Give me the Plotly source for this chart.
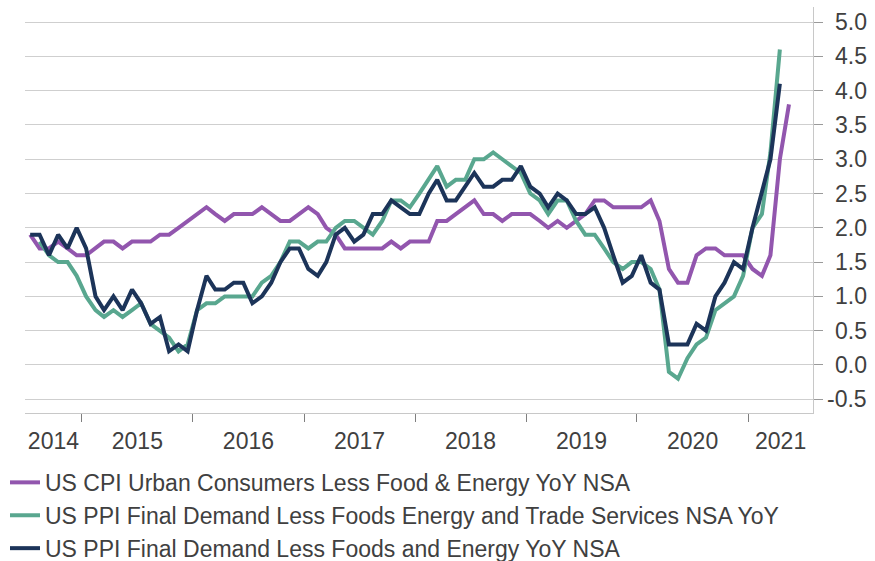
import pandas as pd
import plotly.graph_objects as go

# ---------------- data (monthly, YoY %) ----------------
cpi_start = "2014-07"
cpi_core = [
    1.9, 1.7, 1.7, 1.8, 1.7, 1.6,
    1.6, 1.7, 1.8, 1.8, 1.7, 1.8, 1.8, 1.8, 1.9, 1.9, 2.0, 2.1,
    2.2, 2.3, 2.2, 2.1, 2.2, 2.2, 2.2, 2.3, 2.2, 2.1, 2.1, 2.2,
    2.3, 2.2, 2.0, 1.9, 1.7, 1.7, 1.7, 1.7, 1.7, 1.8, 1.7, 1.8,
    1.8, 1.8, 2.1, 2.1, 2.2, 2.3, 2.4, 2.2, 2.2, 2.1, 2.2, 2.2,
    2.2, 2.1, 2.0, 2.1, 2.0, 2.1, 2.2, 2.4, 2.4, 2.3, 2.3, 2.3,
    2.3, 2.4, 2.1, 1.4, 1.2, 1.2, 1.6, 1.7, 1.7, 1.6, 1.6, 1.6,
    1.4, 1.3, 1.6, 3.0, 3.8,
]

ppi_trade_start = "2014-08"
ppi_ex_trade = [
    1.8, 1.6, 1.5, 1.5, 1.3,
    1.0, 0.8, 0.7, 0.8, 0.7, 0.8, 0.9, 0.6, 0.5, 0.4, 0.2, 0.3,
    0.8, 0.9, 0.9, 1.0, 1.0, 1.0, 1.0, 1.2, 1.3, 1.5, 1.8, 1.8,
    1.7, 1.8, 1.8, 2.0, 2.1, 2.1, 2.0, 1.9, 2.1, 2.4, 2.4, 2.3,
    2.5, 2.7, 2.9, 2.6, 2.7, 2.7, 3.0, 3.0, 3.1, 3.0, 2.9, 2.8,
    2.5, 2.4, 2.2, 2.4, 2.4, 2.1, 1.9, 1.9, 1.7, 1.5, 1.4, 1.5,
    1.5, 1.4, 1.1, -0.1, -0.2, 0.1, 0.3, 0.4, 0.8, 0.9, 1.0, 1.3,
    2.0, 2.2, 3.1, 4.6,
]

ppi_core_start = "2014-07"
ppi_core = [
    1.9, 1.9, 1.6, 1.9, 1.7, 2.0,
    1.7, 1.0, 0.8, 1.0, 0.8, 1.1, 0.9, 0.6, 0.7, 0.2, 0.3, 0.2,
    0.8, 1.3, 1.1, 1.1, 1.2, 1.2, 0.9, 1.0, 1.2, 1.5, 1.7, 1.7,
    1.4, 1.3, 1.5, 1.9, 2.0, 1.8, 1.9, 2.2, 2.2, 2.4, 2.3, 2.2,
    2.2, 2.5, 2.7, 2.4, 2.4, 2.6, 2.8, 2.6, 2.6, 2.7, 2.7, 2.9,
    2.6, 2.5, 2.3, 2.5, 2.4, 2.2, 2.2, 2.3, 2.0, 1.6, 1.2, 1.3,
    1.6, 1.2, 1.1, 0.3, 0.3, 0.3, 0.6, 0.5, 1.0, 1.2, 1.5, 1.4,
    2.0, 2.5, 3.0, 4.1,
]

series_names = [
    "US CPI Urban Consumers Less Food & Energy YoY NSA",
    "US PPI Final Demand Less Foods Energy and Trade Services NSA YoY",
    "US PPI Final Demand Less Foods and Energy YoY NSA",
]
series_colors = ["#9256ae", "#59a78f", "#1c3459"]

y_tick_vals = [-0.5, 0.0, 0.5, 1.0, 1.5, 2.0, 2.5, 3.0, 3.5, 4.0, 4.5, 5.0]
y_tick_text = ["-0.5", "0.0", "0.5", "1.0", "1.5", "2.0", "2.5", "3.0", "3.5", "4.0", "4.5", "5.0"]
year_labels = ["2014", "2015", "2016", "2017", "2018", "2019", "2020", "2021"]

X_RANGE = ["2014-06-28", "2021-08-02"]
Y_RANGE = [-0.7, 5.22]
FONT = "Liberation Sans, Arial, sans-serif"
FONT_SIZE = 23
TEXT_COLOR = "#404040"


def month_dates(start, n):
    return pd.date_range(start + "-01", periods=n, freq="MS") + pd.Timedelta(days=14)


fig = go.Figure()
for name, color, start, vals in zip(
    series_names,
    series_colors,
    [cpi_start, ppi_trade_start, ppi_core_start],
    [cpi_core, ppi_ex_trade, ppi_core],
):
    fig.add_trace(
        go.Scatter(
            x=month_dates(start, len(vals)),
            y=vals,
            mode="lines",
            name=name,
            legendgroup=name,
            line=dict(color=color, width=4),
        )
    )

# year labels centred on the visible part of each year, ticks on year boundaries
r0, r1 = pd.Timestamp(X_RANGE[0]), pd.Timestamp(X_RANGE[1])
label_pos = []
for y in year_labels:
    lo = max(pd.Timestamp(f"{y}-01-01"), r0)
    hi = min(pd.Timestamp(f"{int(y) + 1}-01-01"), r1)
    label_pos.append(lo + (hi - lo) / 2)
boundaries = [pd.Timestamp(f"{int(y) + 1}-01-01") for y in year_labels[:-1]]

fig.update_xaxes(
    range=X_RANGE,
    tickmode="array",
    tickvals=label_pos,
    ticktext=year_labels,
    ticks="outside",
    ticklen=7,
    tickcolor="rgba(0,0,0,0)",
    showgrid=False,
    zeroline=False,
    showline=True,
    linecolor="#c8c8c8",
    linewidth=1,
    tickfont=dict(family=FONT, size=FONT_SIZE, color=TEXT_COLOR),
    minor=dict(
        tickmode="array",
        tickvals=boundaries,
        ticks="outside",
        ticklen=8,
        tickwidth=1,
        tickcolor="#7f7f7f",
        showgrid=False,
    ),
)

fig.update_yaxes(
    range=Y_RANGE,
    side="right",
    tickmode="array",
    tickvals=y_tick_vals,
    showticklabels=False,
    ticks="outside",
    ticklen=9,
    tickwidth=1,
    tickcolor="#9a9a9a",
    showgrid=True,
    gridcolor="#cfcfcf",
    gridwidth=1,
    zeroline=False,
    showline=True,
    linecolor="#c8c8c8",
    linewidth=1,
)

for v, t in zip(y_tick_vals, y_tick_text):
    fig.add_annotation(
        x=1, xref="paper", y=v, yref="y", text=t, showarrow=False,
        xanchor="right", yanchor="middle", xshift=56,
        font=dict(family=FONT, size=FONT_SIZE, color=TEXT_COLOR),
    )

fig.update_layout(
    width=875,
    height=561,
    margin=dict(l=25, r=62, t=7, b=148, autoexpand=False),
    paper_bgcolor="white",
    plot_bgcolor="white",
    showlegend=True,
    hovermode=False,
    legend=dict(
        orientation="v",
        x=-0.0254,
        xanchor="left",
        y=-0.118,
        yanchor="top",
        font=dict(family=FONT, size=FONT_SIZE, color=TEXT_COLOR),
        tracegroupgap=0,
        bgcolor="rgba(0,0,0,0)",
    ),
    font=dict(family=FONT, size=FONT_SIZE, color=TEXT_COLOR),
)

fig.write_html(
    "out.html",
    config={"displayModeBar": False},
    post_script="document.body.style.margin='0';document.body.style.overflow='hidden';",
)
